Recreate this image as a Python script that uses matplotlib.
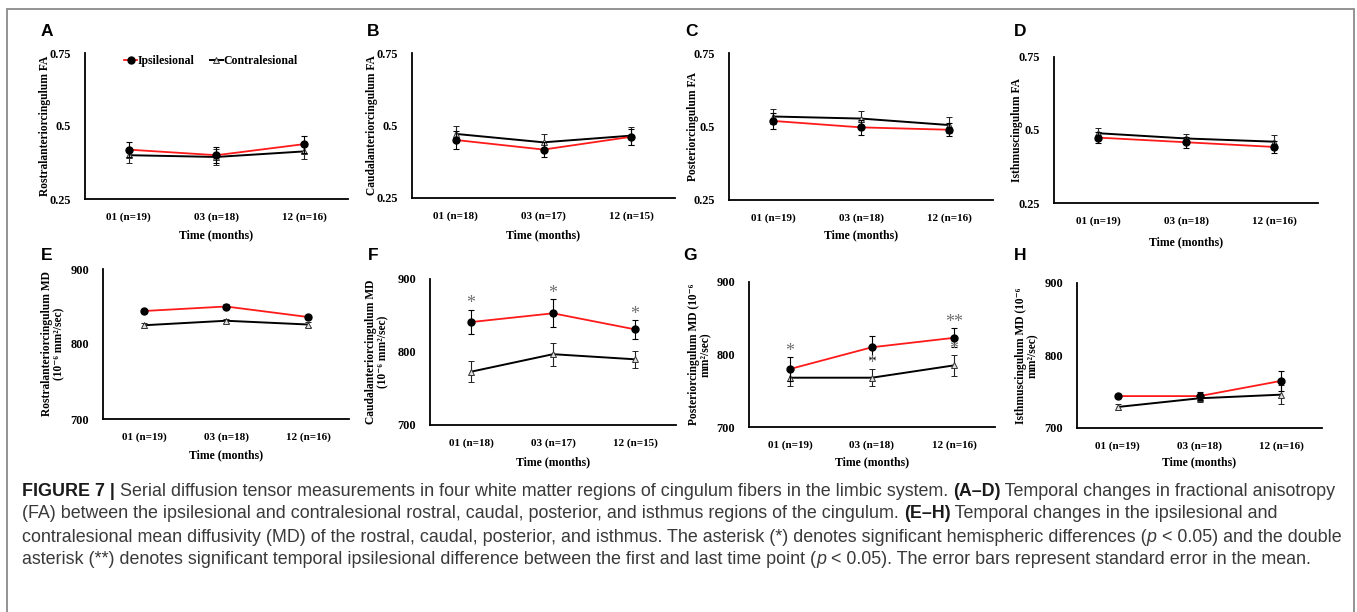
import matplotlib
matplotlib.use("Agg")
import matplotlib.pyplot as plt
from matplotlib.lines import Line2D
from matplotlib.patches import Rectangle
from matplotlib.transforms import IdentityTransform

W, H = 1357, 612

# ---- data ----
ticks_a = ["01 (n=19)", "03 (n=18)", "12 (n=16)"]
ticks_b = ["01 (n=18)", "03 (n=17)", "12 (n=15)"]

fa_rostral_ipsi = [0.419, 0.400, 0.438]
fa_rostral_ipsi_err = [0.025, 0.028, 0.029]
fa_rostral_contra = [0.400, 0.394, 0.413]
fa_rostral_contra_err = [0.026, 0.027, 0.026]

fa_caudal_ipsi = [0.450, 0.417, 0.461]
fa_caudal_ipsi_err = [0.031, 0.026, 0.028]
fa_caudal_contra = [0.471, 0.442, 0.465]
fa_caudal_contra_err = [0.026, 0.029, 0.031]

fa_post_ipsi = [0.519, 0.497, 0.489]
fa_post_ipsi_err = [0.027, 0.025, 0.023]
fa_post_contra = [0.534, 0.527, 0.505]
fa_post_contra_err = [0.026, 0.026, 0.028]

fa_isth_ipsi = [0.474, 0.458, 0.442]
fa_isth_ipsi_err = [0.020, 0.018, 0.020]
fa_isth_contra = [0.489, 0.471, 0.460]
fa_isth_contra_err = [0.019, 0.017, 0.022]

md_rostral_ipsi = [844, 850, 836]
md_rostral_ipsi_err = [3, 3, 3]
md_rostral_contra = [825, 831, 826]
md_rostral_contra_err = [3, 3, 3]

md_caudal_ipsi = [841, 853, 831]
md_caudal_ipsi_err = [17, 19, 13]
md_caudal_contra = [773, 797, 790]
md_caudal_contra_err = [14, 16, 12]

md_post_ipsi = [780, 810, 823]
md_post_ipsi_err = [16, 15, 13]
md_post_contra = [768, 768, 785]
md_post_contra_err = [11, 12, 14]

md_isth_ipsi = [744, 744, 765]
md_isth_ipsi_err = [3, 5, 14]
md_isth_contra = [729, 741, 746]
md_isth_contra_err = [4, 5, 13]

fa_yticks = [0.25, 0.5, 0.75]
fa_yticklabels = ["0.25", "0.5", "0.75"]
md_yticks = [700, 800, 900]

# asterisks: (series, time index, text)
stars_f = [("ipsi", 0, "*"), ("ipsi", 1, "*"), ("ipsi", 2, "*")]
stars_g = [("ipsi", 0, "*"), ("contra", 1, "*"), ("ipsi", 2, "**"), ("contra", 2, "*")]

sup = "10\u207b\u2076 mm\u00b2/sec"
panels = [
    dict(L="A", ylab="Rostralanteriorcingulum FA", ticks=ticks_a, ipsi=fa_rostral_ipsi, ie=fa_rostral_ipsi_err,
         con=fa_rostral_contra, ce=fa_rostral_contra_err, box=(85, 348, 53, 199), lab=(47, 32), yl=45, xl=235, fa=True, legend=True),
    dict(L="B", ylab="Caudalanteriorcingulum FA", ticks=ticks_b, ipsi=fa_caudal_ipsi, ie=fa_caudal_ipsi_err,
         con=fa_caudal_contra, ce=fa_caudal_contra_err, box=(412, 675, 53, 198), lab=(373, 32), yl=372, xl=235, fa=True),
    dict(L="C", ylab="Posteriorcingulum FA", ticks=ticks_a, ipsi=fa_post_ipsi, ie=fa_post_ipsi_err,
         con=fa_post_contra, ce=fa_post_contra_err, box=(729, 993, 53, 200), lab=(692, 32), yl=693, xl=235, fa=True),
    dict(L="D", ylab="Isthmuscingulum FA", ticks=ticks_a, ipsi=fa_isth_ipsi, ie=fa_isth_ipsi_err,
         con=fa_isth_contra, ce=fa_isth_contra_err, box=(1054, 1318, 57, 203), lab=(1020, 32), yl=1017, xl=242, fa=True),
    dict(L="E", ylab="Rostralanteriorcingulum MD\n(" + sup + ")", ticks=ticks_a, ipsi=md_rostral_ipsi, ie=md_rostral_ipsi_err,
         con=md_rostral_contra, ce=md_rostral_contra_err, box=(103, 349, 269, 419), lab=(47, 255), yl=53, xl=455, fa=False),
    dict(L="F", ylab="Caudalanteriorcingulum MD\n(" + sup + ")", ticks=ticks_b, ipsi=md_caudal_ipsi, ie=md_caudal_ipsi_err,
         con=md_caudal_contra, ce=md_caudal_contra_err, box=(430, 676, 279, 425), lab=(373, 255), yl=377, xl=462, fa=False, stars=stars_f),
    dict(L="G", ylab="Posteriorcingulum MD (10\u207b\u2076\nmm\u00b2/sec)", ticks=ticks_a, ipsi=md_post_ipsi, ie=md_post_ipsi_err,
         con=md_post_contra, ce=md_post_contra_err, box=(749, 995, 282, 427), lab=(690, 255), yl=700, xl=462, fa=False, stars=stars_g),
    dict(L="H", ylab="Isthmuscingulum MD (10\u207b\u2076\nmm\u00b2/sec)", ticks=ticks_a, ipsi=md_isth_ipsi, ie=md_isth_ipsi_err,
         con=md_isth_contra, ce=md_isth_contra_err, box=(1077, 1322, 283, 428), lab=(1020, 255), yl=1027, xl=462, fa=False),
]

serif = ["Liberation Serif", "DejaVu Serif"]
sans = ["Liberation Sans", "DejaVu Sans"]
RED = "#ff1a1a"
ipsi_style = dict(color=RED, lw=1.3, marker="o", ms=5, mfc="black", mec="black")
contra_style = dict(color="black", lw=1.4, marker="^", ms=4, mfc="#e0e0e0", mec="#333333", mew=0.7)

fig = plt.figure(figsize=(W / 100, H / 100), dpi=100)


def fx(x):
    return x / W


def fy(y):
    return 1 - y / H


# outer frame
fig.patches.append(Rectangle((7, -10), 1347, 613, transform=IdentityTransform(), fill=False,
                             edgecolor="#8a8a8a", linewidth=1.3))

for p in panels:
    l, r, t, b = p["box"]
    ax = fig.add_axes([fx(l), fy(b), (r - l) / W, (b - t) / H])
    x = list(range(3))
    ax.errorbar(x, p["ipsi"], yerr=p["ie"], ecolor="black", elinewidth=0.8, capsize=2, capthick=0.8,
                zorder=3, **ipsi_style)
    ax.errorbar(x, p["con"], yerr=p["ce"], ecolor="#222222", elinewidth=0.8, capsize=2, capthick=0.8,
                zorder=2, **contra_style)
    ax.set_xlim(-0.5, 2.5)
    if p["fa"]:
        ax.set_ylim(0.25, 0.75)
        ax.set_yticks(fa_yticks)
        ax.set_yticklabels(fa_yticklabels)
    else:
        ax.set_ylim(700, 900)
        ax.set_yticks(md_yticks)
    ax.set_xticks(x)
    ax.set_xticklabels(p["ticks"])
    for s in ["top", "right"]:
        ax.spines[s].set_visible(False)
    for s in ["left", "bottom"]:
        ax.spines[s].set_linewidth(1.3)
    ax.tick_params(axis="x", length=0, labelsize=8, pad=10)
    ax.tick_params(axis="y", length=0, labelsize=8.8, pad=10)
    for tl in ax.get_xticklabels() + ax.get_yticklabels():
        tl.set_family(serif)
        tl.set_weight("bold")
    ax.set_ylabel(p["ylab"], family=serif, weight="bold", fontsize=8.3, linespacing=1.0)
    ax.yaxis.set_label_coords(fx(p["yl"]), fy((t + b) / 2), transform=fig.transFigure)
    ax.set_xlabel("Time (months)", family=serif, weight="bold", fontsize=8.5)
    ax.xaxis.set_label_coords(fx((l + r) / 2), fy(p["xl"]), transform=fig.transFigure)
    ax.xaxis.label.set_va("center")
    ax.yaxis.label.set_va("center")
    fig.text(fx(p["lab"][0]), fy(p["lab"][1]), p["L"], family=sans, weight="bold", fontsize=12.5,
             ha="center", va="center")
    for series, i, txt in p.get("stars", []):
        vals, errs = (p["ipsi"], p["ie"]) if series == "ipsi" else (p["con"], p["ce"])
        ax.annotate(txt, (i, vals[i] + errs[i]), xytext=(0, -2), textcoords="offset points",
                    ha="center", va="bottom", family=serif, fontsize=13, color="#707070")
    if p.get("legend"):
        handles = [Line2D([], [], **ipsi_style), Line2D([], [], **contra_style)]
        ax.legend(handles, ["Ipsilesional", "Contralesional"], loc="upper center",
                  bbox_to_anchor=((211 - l) / (r - l), 1.06), ncol=2, frameon=False,
                  handlelength=1.1, handletextpad=0.05, columnspacing=1.3,
                  prop=dict(family=serif, weight="bold", size=8.5))

# ---- caption ----
cap_lines = [
    [("FIGURE 7 | ", "bold", "normal"),
     ("Serial diffusion tensor measurements in four white matter regions of cingulum fibers in the limbic system. ", "normal", "normal"),
     ("(A\u2013D)", "bold", "normal"), (" Temporal changes in fractional anisotropy", "normal", "normal")],
    [("(FA) between the ipsilesional and contralesional rostral, caudal, posterior, and isthmus regions of the cingulum. ", "normal", "normal"),
     ("(E\u2013H)", "bold", "normal"), (" Temporal changes in the ipsilesional and", "normal", "normal")],
    [("contralesional mean diffusivity (MD) of the rostral, caudal, posterior, and isthmus. The asterisk (*) denotes significant hemispheric differences (", "normal", "normal"),
     ("p", "normal", "italic"), (" < 0.05) and the double", "normal", "normal")],
    [("asterisk (**) denotes significant temporal ipsilesional difference between the first and last time point (", "normal", "normal"),
     ("p", "normal", "italic"), (" < 0.05). The error bars represent standard error in the mean.", "normal", "normal")],
]
cap_y = [491, 514, 537, 560]
renderer = fig.canvas.get_renderer()


def seg_width(s, weight, style, size):
    t1 = fig.text(0, 0, "x" + s + "x", fontsize=size, weight=weight, style=style, family=sans)
    t2 = fig.text(0, 0, "xx", fontsize=size, weight=weight, style=style, family=sans)
    w = t1.get_window_extent(renderer).width - t2.get_window_extent(renderer).width
    t1.remove()
    t2.remove()
    return w


base = 10.0
w0 = sum(seg_width(s, w, st, base) for s, w, st in cap_lines[0])
size = base * 1316 / w0
for line, y in zip(cap_lines, cap_y):
    x = 22
    for s, w, st in line:
        col = "#1a1a1a" if w == "bold" else "#3a3a3a"
        fig.text(x, H - y, s, transform=IdentityTransform(), fontsize=size, weight=w, style=st,
                 family=sans, color=col, va="center", ha="left")
        x += seg_width(s, w, st, size)

fig.savefig("out.png", dpi=100)
